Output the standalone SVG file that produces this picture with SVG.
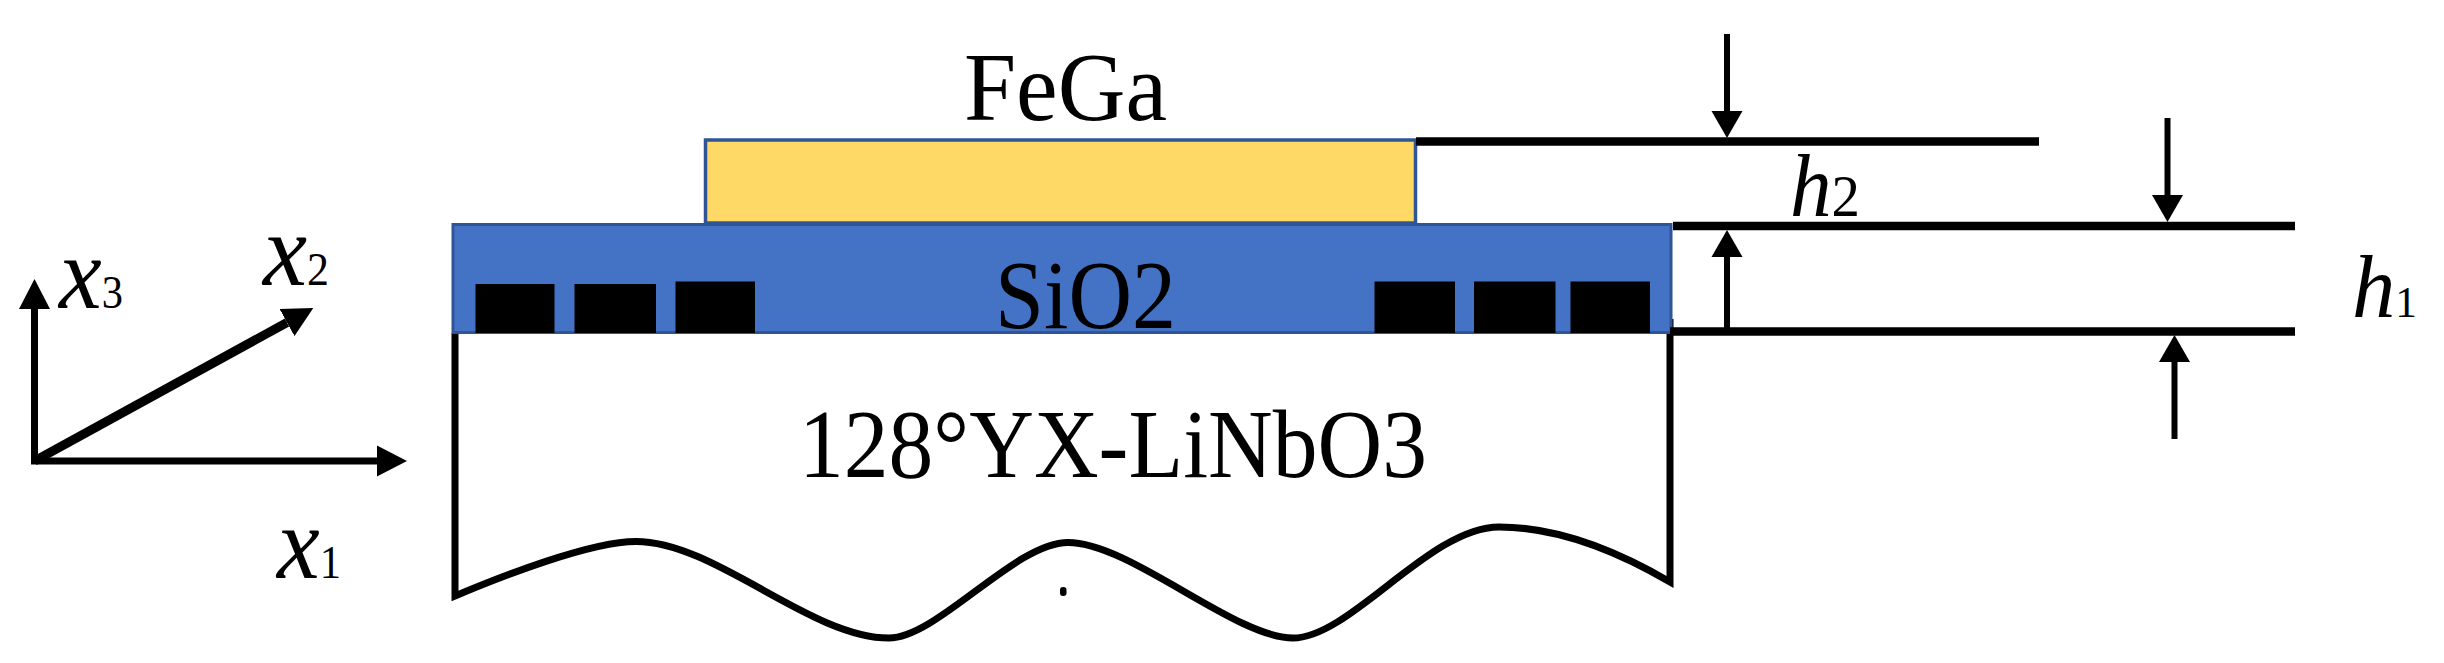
<svg xmlns="http://www.w3.org/2000/svg" width="2444" height="663" viewBox="0 0 2444 663">
  <style>
    text { font-family: "Liberation Serif", "Times New Roman", serif; fill: #000; }
    .i { font-style: italic; }
    .lbl { font-size: 98px; }
    .blk { fill: #000; }
    .ax { stroke: #000; stroke-width: 7; fill: none; }
    .ax2 { stroke: #000; stroke-width: 9; fill: none; }
    .dim { stroke: #000; stroke-width: 6; fill: none; marker-end: url(#dimhead); }
    .ext { stroke: #000; stroke-width: 8.5; fill: none; }
    .sub { stroke: #000; stroke-width: 7; fill: none; stroke-linejoin: miter; }
  </style>
  <defs>
    <marker id="axhead" markerUnits="userSpaceOnUse" markerWidth="31" markerHeight="32" refX="0" refY="16" orient="auto">
      <path d="M0,0.5 L30,16 L0,31.5 Z" fill="#000"/>
    </marker>
    <marker id="dimhead" markerUnits="userSpaceOnUse" markerWidth="28" markerHeight="32" refX="0" refY="16" orient="auto">
      <path d="M0,0.5 L27,16 L0,31.5 Z" fill="#000"/>
    </marker>
  </defs>
  <rect width="2444" height="663" fill="#fff"/>

  <g id="substrate">
    <path class="sub" d="M455,333 V596 C500,577 590,541.500 636,541.500 C715,541.500 810,638 889,638 C937,638 1015,542.500 1068,542.500 C1130,542.500 1235,638 1293,638 C1350,638 1430,527 1499,527 C1535,527 1590,535 1670,582 V319"/>
    <rect class="blk" x="1060" y="587" width="6.500" height="9" rx="3"/>
    <text class="lbl" x="799" y="477" textLength="628" lengthAdjust="spacingAndGlyphs">128°YX-LiNbO3</text>
  </g>

  <g id="sio2">
    <rect x="453" y="224.500" width="1218" height="108" fill="#4472C4" stroke="#2F5597" stroke-width="3"/>
    <rect class="blk" x="475.500" y="284" width="79" height="49"/>
    <rect class="blk" x="574.500" y="284" width="81.500" height="49"/>
    <rect class="blk" x="675.500" y="281.500" width="79.500" height="51.500"/>
    <rect class="blk" x="1374.500" y="281.500" width="80.500" height="51.500"/>
    <rect class="blk" x="1474" y="281.500" width="81.500" height="51.500"/>
    <rect class="blk" x="1570.500" y="281.500" width="79.500" height="51.500"/>
    <text class="lbl" x="995" y="327.500" textLength="181" lengthAdjust="spacingAndGlyphs">SiO2</text>
  </g>

  <g id="fega">
    <rect x="705.500" y="140" width="710" height="83" fill="#FFD966" stroke="#2F5597" stroke-width="3.500"/>
    <text class="lbl" x="964" y="120" textLength="203" lengthAdjust="spacingAndGlyphs">FeGa</text>
  </g>

  <g id="axes-labels">
    <text x="59" y="308" textLength="64" lengthAdjust="spacingAndGlyphs"><tspan class="i" font-size="104">x</tspan><tspan font-size="46">3</tspan></text>
    <text x="263" y="285" textLength="66" lengthAdjust="spacingAndGlyphs"><tspan class="i" font-size="104">x</tspan><tspan font-size="46">2</tspan></text>
    <text x="277" y="578" textLength="64" lengthAdjust="spacingAndGlyphs"><tspan class="i" font-size="104">x</tspan><tspan font-size="46">1</tspan></text>
    <text x="1790" y="216" textLength="70" lengthAdjust="spacingAndGlyphs"><tspan class="i" font-size="88">h</tspan><tspan font-size="60">2</tspan></text>
    <text x="2352" y="317" textLength="65" lengthAdjust="spacingAndGlyphs"><tspan class="i" font-size="88">h</tspan><tspan font-size="44">1</tspan></text>
  </g>

  <g id="connectors">
    <path class="ax" d="M34.500,464 V309" marker-end="url(#axhead)"/>
    <path class="ax" d="M31,461 H377" marker-end="url(#axhead)"/>
    <path class="ax2" d="M34.500,461 L287,322.500" marker-end="url(#axhead)"/>
    <path class="ext" d="M1416,141.500 H2039"/>
    <path class="ext" d="M1673,226 H2295"/>
    <path class="ext" d="M1670,331.500 H2295"/>
    <path class="dim" d="M1727,34 V111"/>
    <path class="dim" d="M2167.500,118 V195"/>
    <path class="dim" d="M1727,331 V257"/>
    <path class="dim" d="M2174.500,439 V362"/>
  </g>
</svg>
